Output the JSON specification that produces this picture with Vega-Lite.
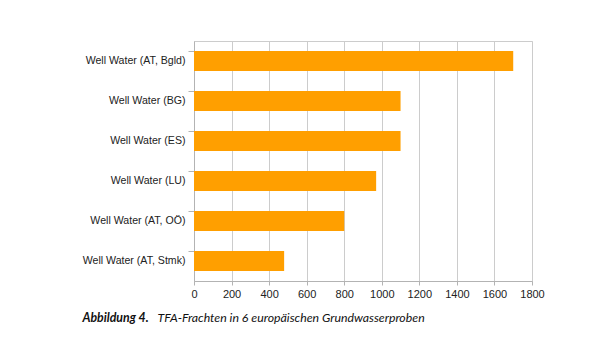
{
  "$schema": "https://vega.github.io/schema/vega-lite/v6.json",
  "autosize": "none",
  "padding": {"left": 194, "top": 41, "right": 68, "bottom": 65},
  "width": 338,
  "height": 240,
  "background": "white",
  "config": {
    "view": {"stroke": "#cccccc", "strokeWidth": 1},
    "font": "Liberation Sans"
  },
  "data": {
    "values": [
      {"sample": "Well Water (AT, Bgld)", "value": 1700},
      {"sample": "Well Water (BG)", "value": 1100},
      {"sample": "Well Water (ES)", "value": 1100},
      {"sample": "Well Water (LU)", "value": 970},
      {"sample": "Well Water (AT, OÖ)", "value": 800},
      {"sample": "Well Water (AT, Stmk)", "value": 480}
    ]
  },
  "mark": {"type": "bar", "color": "#ff9f00"},
  "encoding": {
    "y": {
      "field": "sample",
      "type": "nominal",
      "sort": null,
      "scale": {"paddingInner": 0.5, "paddingOuter": 0.25},
      "axis": {
        "title": "Abbildung 4.",
        "titleAngle": 0,
        "titleX": -112,
        "titleY": 280,
        "titleAlign": "left",
        "titleBaseline": "alphabetic",
        "titleFont": "Lato",
        "titleFontStyle": "italic",
        "titleFontWeight": "bold",
        "titleFontSize": 12.3,
        "titleColor": "#111111",
        "bandPosition": 0,
        "tickSize": 6,
        "tickColor": "#b3b3b3",
        "domainColor": "#b3b3b3",
        "labelFont": "Liberation Sans",
        "labelFontSize": 10.6,
        "labelColor": "#222222",
        "labelPadding": 3,
        "grid": false
      }
    },
    "x": {
      "field": "value",
      "type": "quantitative",
      "scale": {"domain": [0, 1800], "nice": false},
      "axis": {
        "values": [0, 200, 400, 600, 800, 1000, 1200, 1400, 1600, 1800],
        "format": "d",
        "labelOverlap": false,
        "labelFlush": false,
        "title": "TFA-Frachten in 6 europäischen Grundwasserproben",
        "titleX": -37,
        "titleY": 40,
        "titleAlign": "left",
        "titleBaseline": "alphabetic",
        "titleFont": "Lato",
        "titleFontStyle": "italic",
        "titleFontWeight": "normal",
        "titleFontSize": 12.3,
        "titleColor": "#111111",
        "grid": true,
        "gridColor": "#cccccc",
        "tickSize": 4,
        "tickColor": "#b3b3b3",
        "domainColor": "#b3b3b3",
        "labelFont": "Liberation Sans",
        "labelFontSize": 11,
        "labelColor": "#222222",
        "labelPadding": 3
      }
    }
  }
}
